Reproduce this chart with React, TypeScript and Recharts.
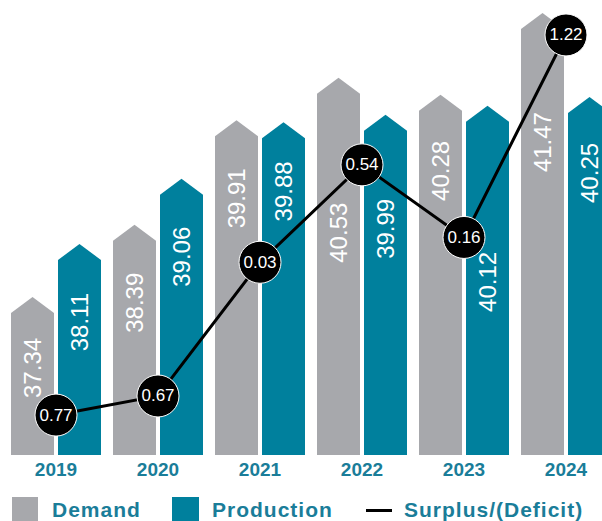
import React from 'react';
import { ComposedChart, Bar, Line, XAxis, YAxis, LabelList } from 'recharts';

const years = ['2019', '2020', '2021', '2022', '2023', '2024'];
const demand = [37.34, 38.39, 39.91, 40.53, 40.28, 41.47];
const production = [38.11, 39.06, 39.88, 39.99, 40.12, 40.25];
const surplus = [0.77, 0.67, -0.03, -0.54, -0.16, -1.22];

// label layout: distance (px) from bar tip down to the end of each rotated value label
const demandLabelGap = [41, 48, 48, 125, 46, 99];
const productionLabelGap = [49, 48, 39, 84, 146, 46];

const data = years.map((year, i) => ({
  year,
  demand: demand[i],
  production: production[i],
  surplus: surplus[i],
}));

const GRAY = '#a7a8ac';
const TEAL = '#00809d';
const TEXT_TEAL = '#1a7d99';
const FONT = "'Liberation Sans', Arial, sans-serif";

const ArrowBar = (props: any) => {
  const { x, y, width, height, fill } = props;
  if (width == null || height == null || height <= 0) return null;
  const tip = 16;
  const d = `M${x},${y + height} L${x},${y + tip} L${x + width / 2},${y} L${x + width},${y + tip} L${x + width},${y + height} Z`;
  return <path d={d} fill={fill} />;
};

const makeBarLabel = (gaps: number[]) => (props: any) => {
  const vb = props.viewBox || {};
  const x = props.x ?? vb.x;
  const y = props.y ?? vb.y;
  const width = props.width ?? vb.width;
  const idx = props.index ?? 0;
  const cx = x + width / 2;
  const ty = y + (gaps[idx] ?? 46);
  return (
    <text
      x={cx}
      y={ty}
      transform={`rotate(-90, ${cx}, ${ty})`}
      textAnchor="end"
      dominantBaseline="central"
      fill="#ffffff"
      fontSize={24}
      fontFamily={FONT}
    >
      {Number(props.value).toFixed(2)}
    </text>
  );
};

const DemandLabel = makeBarLabel(demandLabelGap);
const ProductionLabel = makeBarLabel(productionLabelGap);

const SurplusDot = (props: any) => {
  const { cx, cy, payload, index } = props;
  if (cx == null || cy == null) return null;
  const v = Math.abs(payload.surplus).toFixed(2);
  return (
    <g key={`dot-${index}`}>
      <circle cx={cx} cy={cy} r={21} fill="#000000" stroke="#ffffff" strokeWidth={1} />
      <text
        x={cx}
        y={cy}
        textAnchor="middle"
        dominantBaseline="central"
        fill="#ffffff"
        fontSize={17}
        fontFamily={FONT}
      >
        {v}
      </text>
    </g>
  );
};

const legendText: React.CSSProperties = {
  color: TEXT_TEAL,
  fontFamily: FONT,
  fontWeight: 700,
  fontSize: 21,
  letterSpacing: 1,
  position: 'absolute',
  top: 498,
  lineHeight: '24px',
  whiteSpace: 'nowrap',
};

export default function App() {
  return (
    <div style={{ position: 'absolute', left: 0, top: 0, width: 602, height: 521, overflow: 'hidden', background: '#fff' }}>
      <ComposedChart
        width={620}
        height={521}
        data={data}
        margin={{ top: 0, right: 3, left: 5, bottom: 0 }}
        barSize={43}
        barGap={4}
      >
        <XAxis
          dataKey="year"
          axisLine={false}
          tickLine={false}
          height={66}
          tickSize={6}
          tickMargin={2}
          tick={{ fill: TEXT_TEAL, fontSize: 19, fontWeight: 700, fontFamily: FONT }}
        />
        <YAxis yAxisId="bars" hide domain={[35.04, 41.66]} allowDataOverflow />
        <YAxis yAxisId="line" hide reversed domain={[-1.403, 0.979]} allowDataOverflow />
        <Bar yAxisId="bars" dataKey="demand" fill={GRAY} shape={ArrowBar} isAnimationActive={false}>
          <LabelList dataKey="demand" content={DemandLabel} />
        </Bar>
        <Bar yAxisId="bars" dataKey="production" fill={TEAL} shape={ArrowBar} isAnimationActive={false}>
          <LabelList dataKey="production" content={ProductionLabel} />
        </Bar>
        <Line
          yAxisId="line"
          dataKey="surplus"
          stroke="#000000"
          strokeWidth={3}
          dot={SurplusDot}
          activeDot={false}
          isAnimationActive={false}
        />
      </ComposedChart>
      <div style={{ position: 'absolute', left: 12, top: 497, width: 26, height: 26, background: GRAY }} />
      <div style={{ ...legendText, left: 52 }}>Demand</div>
      <div style={{ position: 'absolute', left: 172, top: 497, width: 27, height: 26, background: TEAL }} />
      <div style={{ ...legendText, left: 212 }}>Production</div>
      <div style={{ position: 'absolute', left: 366, top: 509, width: 26, height: 3, background: '#000' }} />
      <div style={{ ...legendText, left: 404 }}>Surplus/(Deficit)</div>
    </div>
  );
}
